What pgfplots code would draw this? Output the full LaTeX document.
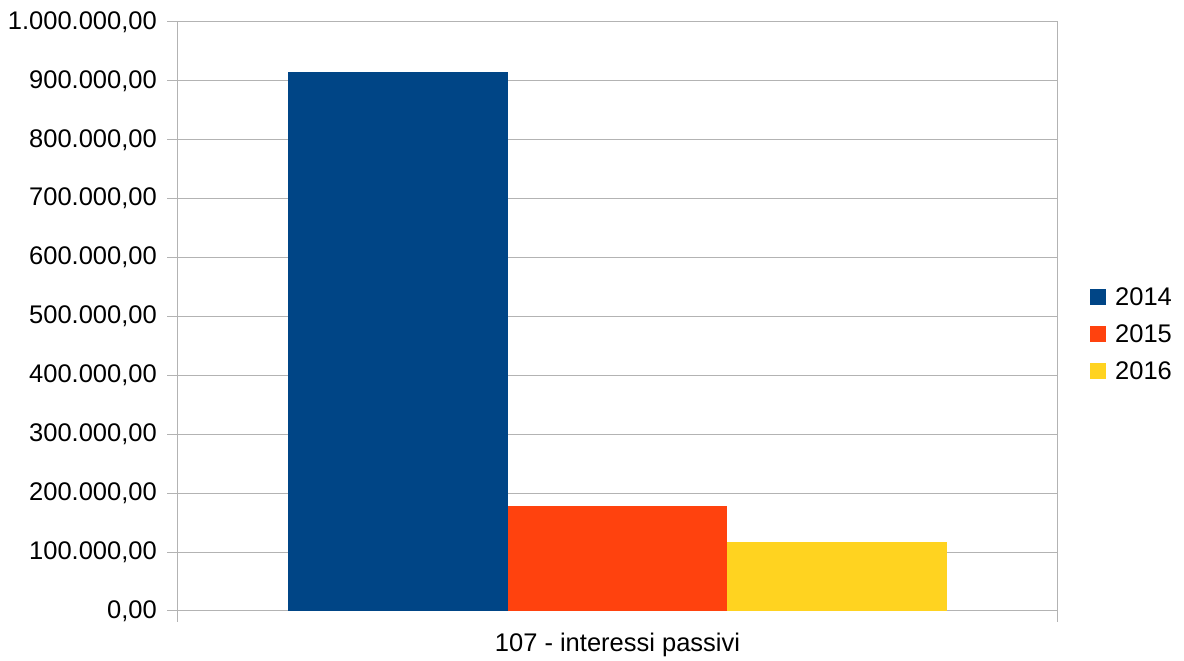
\documentclass[border=0pt]{standalone}
\usepackage{pgfplots}
\pgfplotsset{compat=1.18}
\usepackage{fontspec}
\setmainfont{Liberation Sans}
\definecolor{cA}{HTML}{004586}
\definecolor{cB}{HTML}{FF420E}
\definecolor{cC}{HTML}{FFD320}
\definecolor{gridc}{HTML}{B3B3B3}
\begin{document}
\begin{tikzpicture}[x=1pt,y=1pt]
\path[use as bounding box] (0,0) rectangle (1184,661);
\begin{axis}[
  at={(178pt,50pt)}, anchor=south west,
  scale only axis, width=879pt, height=589pt,
  xmin=0, xmax=1, ymin=0, ymax=1000000,
  ybar, bar width=0.25, bar shift=0pt,
  axis line style={draw=gridc, line width=1pt},
  ytick={0,100000,200000,300000,400000,500000,600000,700000,800000,900000,1000000},
  ymajorgrids, grid style={gridc, line width=1pt},
  scaled y ticks=false,
  /pgf/number format/fixed,
  /pgf/number format/fixed zerofill,
  /pgf/number format/precision=2,
  /pgf/number format/use comma,
  /pgf/number format/1000 sep={.},
  /pgf/number format/assume math mode=true,
  tick style={gridc, line width=1pt},
  major tick length=11pt,
  tick align=outside,
  ytick pos=left, xtick pos=bottom,
  xtick={0,1}, xticklabels={,},
  extra x ticks={0.5}, extra x tick labels={107 - interessi passivi},
  extra x tick style={major tick length=0pt, grid=none},
  ticklabel style={font=\fontsize{25.5}{30}\selectfont, text=black},
  yticklabel style={inner sep=0pt, xshift=-10pt},
  xticklabel style={inner sep=0pt, yshift=-22pt},
  legend style={draw=none, fill=none, at={(1.0375,0.47)}, anchor=west, inner sep=0pt,
    font=\fontsize{25.5}{30}\selectfont, row sep=14pt, column sep=7pt, cells={anchor=west}},
  legend image code/.code={\path[fill, draw=none] (0pt,-8pt) rectangle (16pt,8pt);},
]
\addplot[fill=cA, draw=none] coordinates {(0.25,915000)};
\addplot[fill=cB, draw=none] coordinates {(0.50,178000)};
\addplot[fill=cC, draw=none] coordinates {(0.75,117000)};
\legend{2014,2015,2016}
\end{axis}
\end{tikzpicture}
\end{document}
